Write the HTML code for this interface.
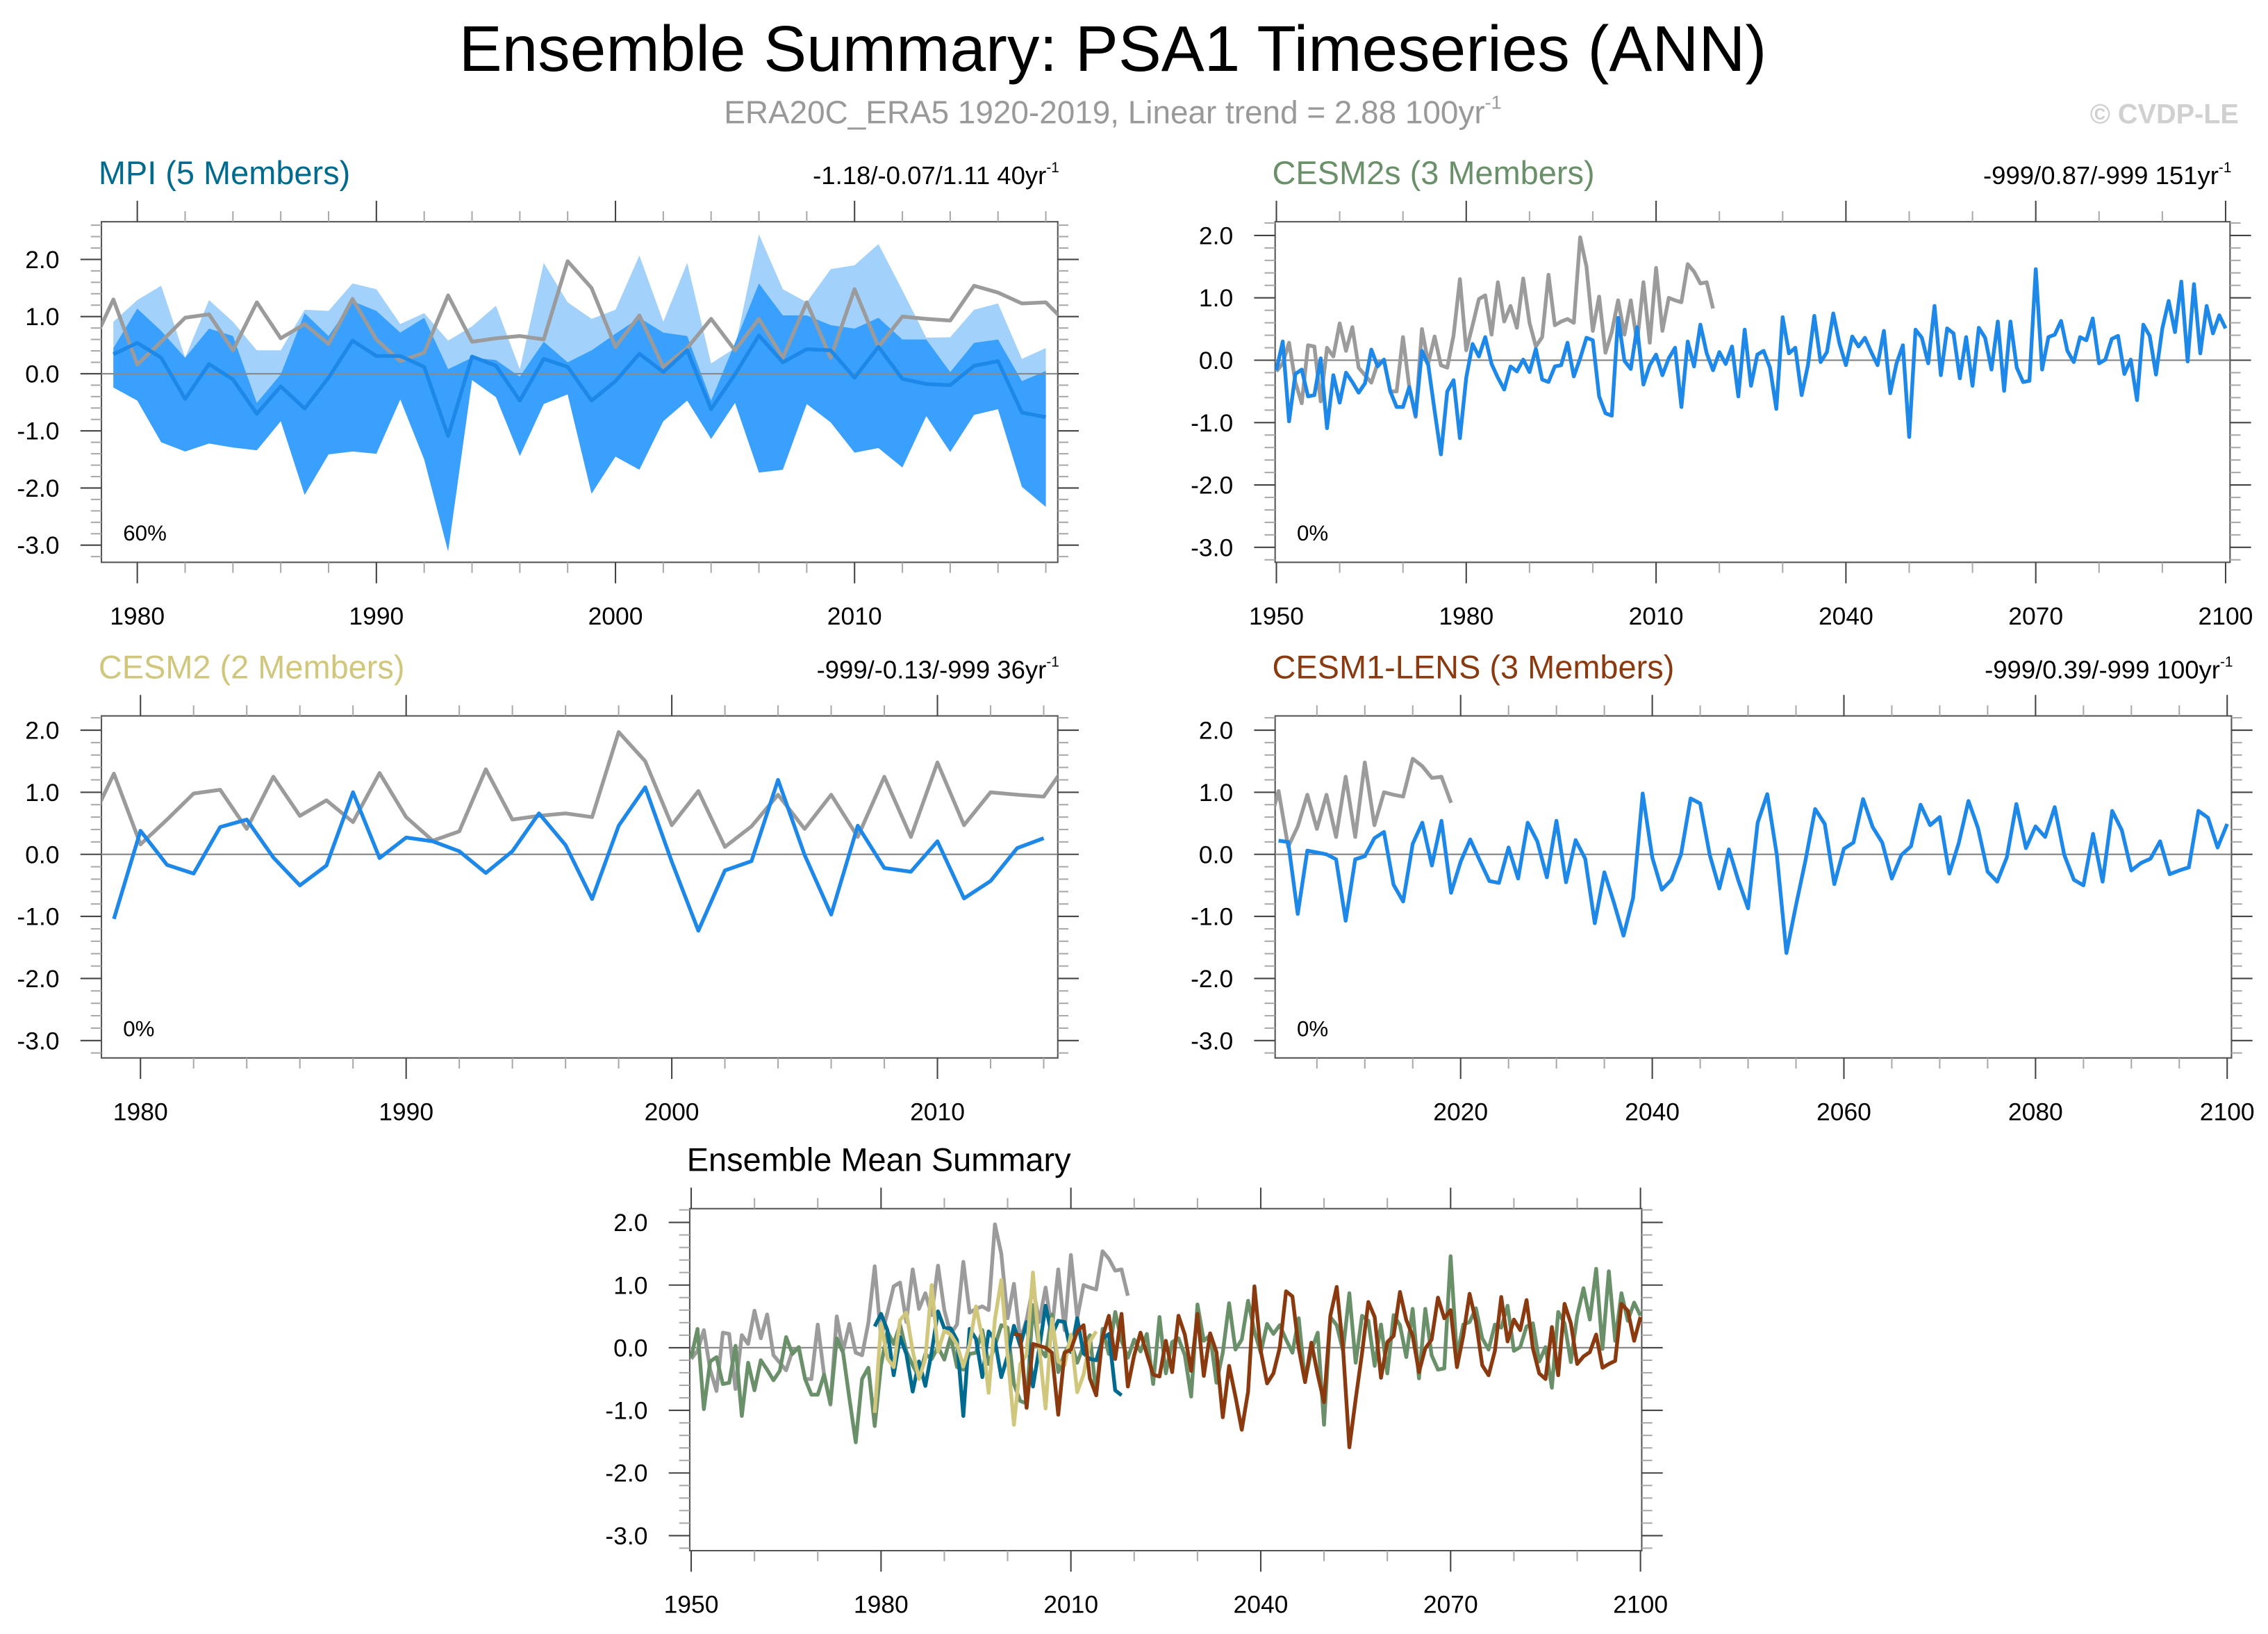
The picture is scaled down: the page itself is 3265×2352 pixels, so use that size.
<!DOCTYPE html>
<html><head><meta charset="utf-8"><style>
html,body{margin:0;padding:0;background:#fff;}
svg{display:block;font-family:"Liberation Sans",sans-serif;}
</style></head><body>
<svg id="chart" width="3265" height="2352" viewBox="0 0 1565.2 1127.5" xmlns="http://www.w3.org/2000/svg">
<rect x="0" y="0" width="1565.2" height="1127.5" fill="#fff"/>
<text x="768" y="49" font-size="44.5" text-anchor="middle" fill="#000">Ensemble Summary: PSA1 Timeseries (ANN)</text>
<text x="768" y="85" font-size="22" text-anchor="middle" fill="#999">ERA20C_ERA5 1920-2019, Linear trend = 2.88 100yr<tspan font-size="13" dy="-10">-1</tspan></text>
<text x="1545" y="85" font-size="19" font-weight="bold" text-anchor="end" fill="#d0d0d0">© CVDP-LE</text>
<g id="panels"></g>
</svg>
<script>
// ---------------- data ----------------
const obsStart = 1950;
const obsValues = [-0.18,-0.05,0.28,-0.35,-0.69,0.24,0.22,-0.66,0.20,0.06,0.59,0.15,0.53,-0.12,-0.24,-0.36,-0.05,-0.01,-0.50,-0.50,0.37,-0.43,-0.91,0.50,-0.05,0.38,-0.08,-0.12,
0.40,1.30,0.16,0.56,0.98,1.04,0.41,1.25,0.62,0.87,0.52,1.31,0.60,0.22,0.37,1.37,0.56,0.62,0.66,0.60,1.97,1.50,0.47,1.02,0.12,0.45,0.96,0.41,0.96,0.28,1.25,0.28,1.48,0.47,1.00,0.96,0.93,1.54,1.42,1.23,1.25,0.83];

const mpiStart = 1979;
const mpiMean = [0.34,0.54,0.28,-0.44,0.17,-0.10,-0.70,-0.22,-0.61,-0.07,0.58,0.31,0.31,0.12,-1.09,0.30,0.14,-0.47,0.26,0.12,-0.47,-0.13,0.35,0.03,0.41,-0.62,-0.01,0.67,0.20,0.43,0.41,-0.07,0.47,-0.09,-0.18,-0.20,0.14,0.22,-0.68,-0.76];
const mpiMaxRange = [0.91,1.29,1.54,0.28,1.29,0.91,0.41,0.41,1.12,1.10,1.58,1.48,0.87,1.06,0.58,0.83,1.19,0.08,1.94,1.25,0.96,1.12,2.07,0.91,1.94,0.18,0.45,2.44,1.48,1.25,1.83,1.90,2.27,1.46,0.63,0.64,1.12,1.23,0.26,0.45];
const mpiUpper = [0.45,1.14,0.75,0.28,0.79,0.66,-0.51,-0.01,1.06,0.66,1.27,1.10,0.72,0.98,0.08,0.28,0.24,-0.05,0.56,0.20,0.41,0.70,0.98,0.72,0.66,-0.47,0.54,1.58,1.02,1.02,0.85,0.79,0.98,0.60,0.60,0.03,0.54,0.60,-0.13,0.05];
const mpiLower = [-0.24,-0.47,-1.20,-1.36,-1.22,-1.29,-1.34,-0.83,-2.12,-1.41,-1.36,-1.40,-0.45,-1.50,-3.11,-0.11,-0.41,-1.44,-0.53,-0.36,-2.10,-1.45,-1.68,-0.83,-0.47,-1.14,-0.51,-1.73,-1.68,-0.53,-0.85,-1.38,-1.30,-1.64,-0.74,-1.37,-0.72,-0.62,-1.98,-2.33];

const cesm2sStart = 1950;
const cesm2sMean = [-0.16,0.30,-0.98,-0.22,-0.15,-0.58,-0.56,0.03,-1.09,-0.24,
-0.68,-0.20,-0.35,-0.52,-0.37,0.17,-0.10,0.01,-0.50,-0.75,
-0.75,-0.43,-0.89,0.15,-0.08,-0.81,-1.51,-0.50,-0.32,-1.25,
-0.28,0.26,0.06,0.37,-0.06,-0.28,-0.47,-0.10,-0.18,0.01,
-0.19,0.18,-0.31,-0.35,-0.10,-0.08,0.28,-0.26,0.03,0.36,
0.32,-0.58,-0.85,-0.89,0.68,-0.01,-0.14,0.53,-0.39,-0.08,
0.09,-0.24,0.03,0.20,-0.75,0.30,-0.10,0.57,0.11,-0.16,
0.13,-0.06,0.22,-0.58,0.49,-0.41,0.09,0.15,-0.12,-0.78,
0.69,0.11,0.20,-0.56,-0.08,0.71,-0.03,0.13,0.75,0.26,
-0.08,0.38,0.22,0.36,0.13,-0.08,0.47,-0.53,-0.05,0.24,
-1.23,0.49,0.36,-0.05,0.87,-0.24,0.51,0.43,-0.29,0.37,
-0.41,0.52,0.36,-0.15,0.62,-0.49,0.62,-0.12,-0.35,-0.33,
1.46,-0.15,0.37,0.41,0.63,0.15,-0.03,0.37,0.32,0.67,
-0.05,0.01,0.34,0.39,-0.22,0.01,-0.64,0.57,0.39,-0.23,
0.51,0.95,0.45,1.26,-0.02,1.22,0.11,0.87,0.43,0.72,0.51];

const cesm2Start = 1979;
const cesm2Mean = [-1.04,0.38,-0.17,-0.31,0.44,0.56,-0.05,-0.50,-0.18,1.00,-0.06,0.27,0.21,0.05,-0.30,0.05,0.66,0.15,-0.72,0.46,1.08,-0.12,-1.23,-0.26,-0.11,1.20,-0.01,-0.97,0.46,-0.22,-0.28,0.21,-0.71,-0.43,0.10,0.26];

const lensStart = 2001;
const lensMean = [0.22,0.20,-0.96,0.06,0.03,0.00,-0.08,-1.07,-0.08,-0.03,
0.26,0.36,-0.49,-0.76,0.17,0.51,-0.18,0.54,-0.62,-0.12,
0.24,-0.10,-0.43,-0.46,0.11,-0.39,0.51,0.21,-0.37,0.54,
-0.45,0.23,-0.07,-1.11,-0.29,-0.78,-1.31,-0.70,0.98,-0.05,
-0.57,-0.41,0.00,0.90,0.82,-0.01,-0.55,0.08,-0.43,-0.87,
0.51,0.97,-0.01,-1.59,-0.82,-0.09,0.73,0.49,-0.48,0.09,
0.19,0.89,0.44,0.19,-0.39,-0.01,0.13,0.80,0.47,0.60,
-0.31,0.19,0.86,0.42,-0.28,-0.44,-0.05,0.81,0.10,0.45,
0.28,0.76,-0.01,-0.41,-0.50,0.33,-0.44,0.70,0.39,-0.26,
-0.14,-0.07,0.21,-0.32,-0.26,-0.21,0.70,0.59,0.11,0.49];

const yTickValues = [2, 1, 0, -1, -2, -3];
const yTickLabels = ["2.0","1.0","0.0","-1.0","-2.0","-3.0"];

// ---------------- drawing ----------------
const NS = "http://www.w3.org/2000/svg";
const root = document.getElementById('panels');
function mk(tag, attrs, parent) {
  const e = document.createElementNS(NS, tag);
  for (const k in attrs) e.setAttribute(k, attrs[k]);
  (parent || root).appendChild(e);
  return e;
}
let clipId = 0;

function makePanel(p) {
  const g = mk('g', {});
  
  
  const sx = v => p.x0 + (v - p.xmin) / (p.xmax - p.xmin) * (p.x1 - p.x0);
  const sy = v => p.y1 - (v - p.ymin) / (p.ymax - p.ymin) * (p.y1 - p.y0);
  p.sx = sx; p.sy = sy;
  const box = mk('rect', {x: p.x0, y: p.y0, width: p.x1 - p.x0, height: p.y1 - p.y0, fill: '#fff', stroke: '#555', 'stroke-width': 1}, g);
  
  
  for (let k = Math.ceil(p.ymin * 5); k <= Math.floor(p.ymax * 5); k++) {
    const v = k / 5, y = sy(v), major = (k % 5 === 0);
    const L = major ? 14.5 : 7.3, c = major ? '#444' : '#aaa';
    mk('line', {x1: p.x0 - L, x2: p.x0, y1: y, y2: y, stroke: c, 'stroke-width': 1}, g);
    mk('line', {x1: p.x1, x2: p.x1 + L, y1: y, y2: y, stroke: c, 'stroke-width': 1}, g);
  }
  yTickValues.forEach((v, i) => {
    const t = mk('text', {x: p.x0 - 29, y: sy(v) + 6, 'font-size': 17, 'text-anchor': 'end', fill: '#000'}, g);
    t.textContent = yTickLabels[i];
    
    
  });
  for (let yr = Math.ceil(p.xmin / p.minor) * p.minor; yr <= p.xmax; yr += p.minor) {
    const x = sx(yr), major = (yr % p.major === 0);
    const L = major ? 14.5 : 7.3, c = major ? '#444' : '#aaa';
    mk('line', {x1: x, x2: x, y1: p.y0 - L, y2: p.y0, stroke: c, 'stroke-width': 1}, g);
    mk('line', {x1: x, x2: x, y1: p.y1, y2: p.y1 + L, stroke: c, 'stroke-width': 1}, g);
    if (major) {
      const t = mk('text', {x: x, y: p.y1 + 43, 'font-size': 17, 'text-anchor': 'middle', fill: '#000'}, g);
      t.textContent = String(yr);
      
      
    }
  }
  const id = 'clip' + (clipId++);
  const cp = mk('clipPath', {id: id}, g);
  mk('rect', {x: p.x0, y: p.y0, width: p.x1 - p.x0, height: p.y1 - p.y0}, cp);
  const inner = mk('g', {'clip-path': 'url(#' + id + ')'}, g);
  p.inner = inner;
  const tt = mk('text', {x: p.x0 - 2, y: p.y0 - 26, 'font-size': 22.5, fill: p.titleColor}, g);
  tt.textContent = p.title;
  
  
  if (p.stats) {
    const st = mk('text', {x: p.x1 + 1, y: p.y0 - 26, 'font-size': 17.5, 'text-anchor': 'end', fill: '#000'}, g);
    
    
    st.appendChild(document.createTextNode(p.stats));
    const sp = mk('tspan', {'font-size': 10, dy: -8}, st);
    sp.textContent = '-1';
  }
  if (p.pct) {
    const pt = mk('text', {x: p.x0 + 15, y: p.y1 - 15, 'font-size': 15, fill: '#000'}, g);
    pt.textContent = p.pct;
    
    
  }
  return p;
}
function pts(p, start, vals) {
  return vals.map((v, i) => p.sx(start + i).toFixed(2) + ',' + p.sy(v).toFixed(2));
}
function line(p, start, vals, color, name, w) {
  const e = mk('polyline', {points: pts(p, start, vals).join(' '), fill: 'none', stroke: color, 'stroke-width': w || 2.6, 'stroke-linejoin': 'round'}, p.inner);
  
  
  return e;
}
function band(p, start, hi, lo, color, name) {
  const up = pts(p, start, hi);
  const dn = pts(p, start, lo).reverse();
  const e = mk('polygon', {points: up.concat(dn).join(' '), fill: color, stroke: 'none'}, p.inner);
  
  
}
function zero(p) {
  const e = mk('line', {x1: p.x0, x2: p.x1, y1: p.sy(0), y2: p.sy(0), stroke: '#8a8a8a', 'stroke-width': 1.1}, p.inner);
  
  
}

const BLUE = '#1e88e8', GRAY = '#9b9b9b';

const p1 = makePanel({name: 'mpi-panel', x0: 70, x1: 730, y0: 153, y1: 388, xmin: 1978.5, xmax: 2018.5, ymin: -3.30, ymax: 2.66,
  major: 10, minor: 2, title: 'MPI (5 Members)', titleColor: '#006b8f', stats: '-1.18/-0.07/1.11 40yr', pct: '60%'});
band(p1, mpiStart, mpiMaxRange, mpiLower, '#a2d2fb', 'mpi-minmax-band');
band(p1, mpiStart, mpiUpper, mpiLower, '#3aa0fd', 'mpi-spread-band');
zero(p1);
line(p1, obsStart, obsValues, GRAY, 'observed-line');
line(p1, mpiStart, mpiMean, BLUE, 'mpi-mean-line');

const p2 = makePanel({name: 'cesm2s-panel', x0: 880, x1: 1539, y0: 153, y1: 388, xmin: 1949.8, xmax: 2100.7, ymin: -3.24, ymax: 2.22,
  major: 30, minor: 10, title: 'CESM2s (3 Members)', titleColor: '#6a906a', stats: '-999/0.87/-999 151yr', pct: '0%'});
zero(p2);
line(p2, obsStart, obsValues, GRAY, 'observed-line');
line(p2, cesm2sStart, cesm2sMean, BLUE, 'cesm2s-mean-line');

const p3 = makePanel({name: 'cesm2-panel', x0: 70, x1: 730, y0: 494, y1: 730, xmin: 1978.53, xmax: 2014.53, ymin: -3.28, ymax: 2.23,
  major: 10, minor: 2, title: 'CESM2 (2 Members)', titleColor: '#d1c77c', stats: '-999/-0.13/-999 36yr', pct: '0%'});
zero(p3);
line(p3, obsStart, obsValues, GRAY, 'observed-line');
line(p3, cesm2Start, cesm2Mean, BLUE, 'cesm2-mean-line');

const p4 = makePanel({name: 'cesm1-lens-panel', x0: 880, x1: 1540, y0: 494, y1: 730, xmin: 2000.64, xmax: 2100.45, ymin: -3.28, ymax: 2.23,
  major: 20, minor: 5, title: 'CESM1-LENS (3 Members)', titleColor: '#8b3a0f', stats: '-999/0.39/-999 100yr', pct: '0%'});
zero(p4);
line(p4, obsStart, obsValues, GRAY, 'observed-line');
line(p4, lensStart, lensMean, BLUE, 'cesm1-lens-mean-line');

const p5 = makePanel({name: 'ensemble-mean-panel', x0: 476, x1: 1133, y0: 834, y1: 1070, xmin: 1949.77, xmax: 2100.2, ymin: -3.24, ymax: 2.22,
  major: 30, minor: 10, title: 'Ensemble Mean Summary', titleColor: '#000'});
zero(p5);
line(p5, obsStart, obsValues, GRAY, 'observed-line');
line(p5, cesm2sStart, cesm2sMean, '#6a906a', 'cesm2s-mean-line');
line(p5, mpiStart, mpiMean, '#006b8f', 'mpi-mean-line');
line(p5, cesm2Start, cesm2Mean, '#d1c77c', 'cesm2-mean-line');
line(p5, lensStart, lensMean, '#8b3a0f', 'cesm1-lens-mean-line');
</script>
</body></html>
